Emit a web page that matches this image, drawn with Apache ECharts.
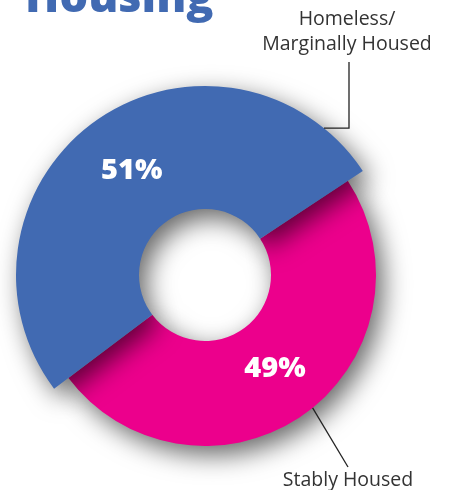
<!DOCTYPE html>
<html>
<head>
<meta charset="utf-8">
<script src="https://cdn.jsdelivr.net/npm/echarts@6/dist/echarts.min.js"></script>
<style>
  html, body { margin: 0; padding: 0; background: #fff; }
  #chart { width: 450px; height: 490px; }
</style>
</head>
<body>
<div id="chart"></div>
<script>
// data
var categories = ['Homeless/\nMarginally Housed', 'Stably Housed'];
var shares = [51, 49];
var colors = ['#416ab2', '#ec008c'];

// layout
var CX = 205, CY = 275;
var R_IN = 66, R_BLUE = 189, R_PINK = 171;
var START = 217;
var FONT = '"Open Sans", sans-serif';

function ring(idx, outer, z) {
    return {
        type: 'pie',
        z: z,
        center: [CX, CY],
        radius: [R_IN, outer],
        startAngle: START,
        clockwise: true,
        silent: true,
        animation: false,
        avoidLabelOverlap: false,
        label: {
            show: true,
            position: 'inside',
            formatter: function (p) { return p.dataIndex === idx ? p.value + '%' : ''; },
            color: '#fff',
            fontSize: 29,
            fontWeight: 800,
            fontFamily: FONT
        },
        labelLine: { show: false },
        labelLayout: idx === 1 ? { dx: 0, dy: -6 } : { dx: 2, dy: 2 },
        data: categories.map(function (name, i) {
            return {
                name: name,
                value: shares[i],
                itemStyle: i === idx ? {
                    color: colors[i],
                    borderWidth: 0,
                    shadowBlur: 26,
                    shadowOffsetX: 7,
                    shadowOffsetY: 9,
                    shadowColor: 'rgba(0,0,0,0.6)'
                } : { color: 'rgba(0,0,0,0)', borderWidth: 0 }
            };
        })
    };
}

var chart = echarts.init(document.getElementById('chart'));
chart.setOption({
    animation: false,
    title: {
        text: 'Housing',
        left: 20,
        top: -28,
        textStyle: { fontSize: 45, fontWeight: 800, color: '#416ab2', fontFamily: FONT }
    },
    series: [
        ring(1, R_PINK, 2),
        ring(0, R_BLUE, 3),
        {
            // name labels with leader lines
            type: 'pie',
            z: 4,
            center: [CX, CY],
            radius: [R_IN, R_BLUE],
            startAngle: START,
            silent: true,
            animation: false,
            avoidLabelOverlap: false,
            itemStyle: { color: 'rgba(0,0,0,0)', borderWidth: 0 },
            label: {
                show: true,
                position: 'outside',
                formatter: '{b}',
                color: '#333',
                fontSize: 19.5,
                lineHeight: 25,
                fontFamily: FONT
            },
            labelLine: { show: true, lineStyle: { color: '#222', width: 1.3 } },
            labelLayout: function (p) {
                var a, ax, ay;
                if (p.dataIndex === 0) {
                    a = 51 * Math.PI / 180;
                    ax = CX + R_BLUE * Math.cos(a);
                    ay = CY - R_BLUE * Math.sin(a);
                    return {
                        x: 347, y: 57, align: 'center', verticalAlign: 'bottom',
                        labelLinePoints: [[ax, ay], [349, ay], [349, 62]]
                    };
                }
                a = -51 * Math.PI / 180;
                ax = CX + R_PINK * Math.cos(a);
                ay = CY - R_PINK * Math.sin(a);
                return {
                    x: 348, y: 480, align: 'center', verticalAlign: 'middle',
                    labelLinePoints: [[ax, ay], [348, 467], [348, 467]]
                };
            },
            data: categories.map(function (name, i) {
                return { name: name, value: shares[i] };
            })
        }
    ]
});
</script>
</body>
</html>
